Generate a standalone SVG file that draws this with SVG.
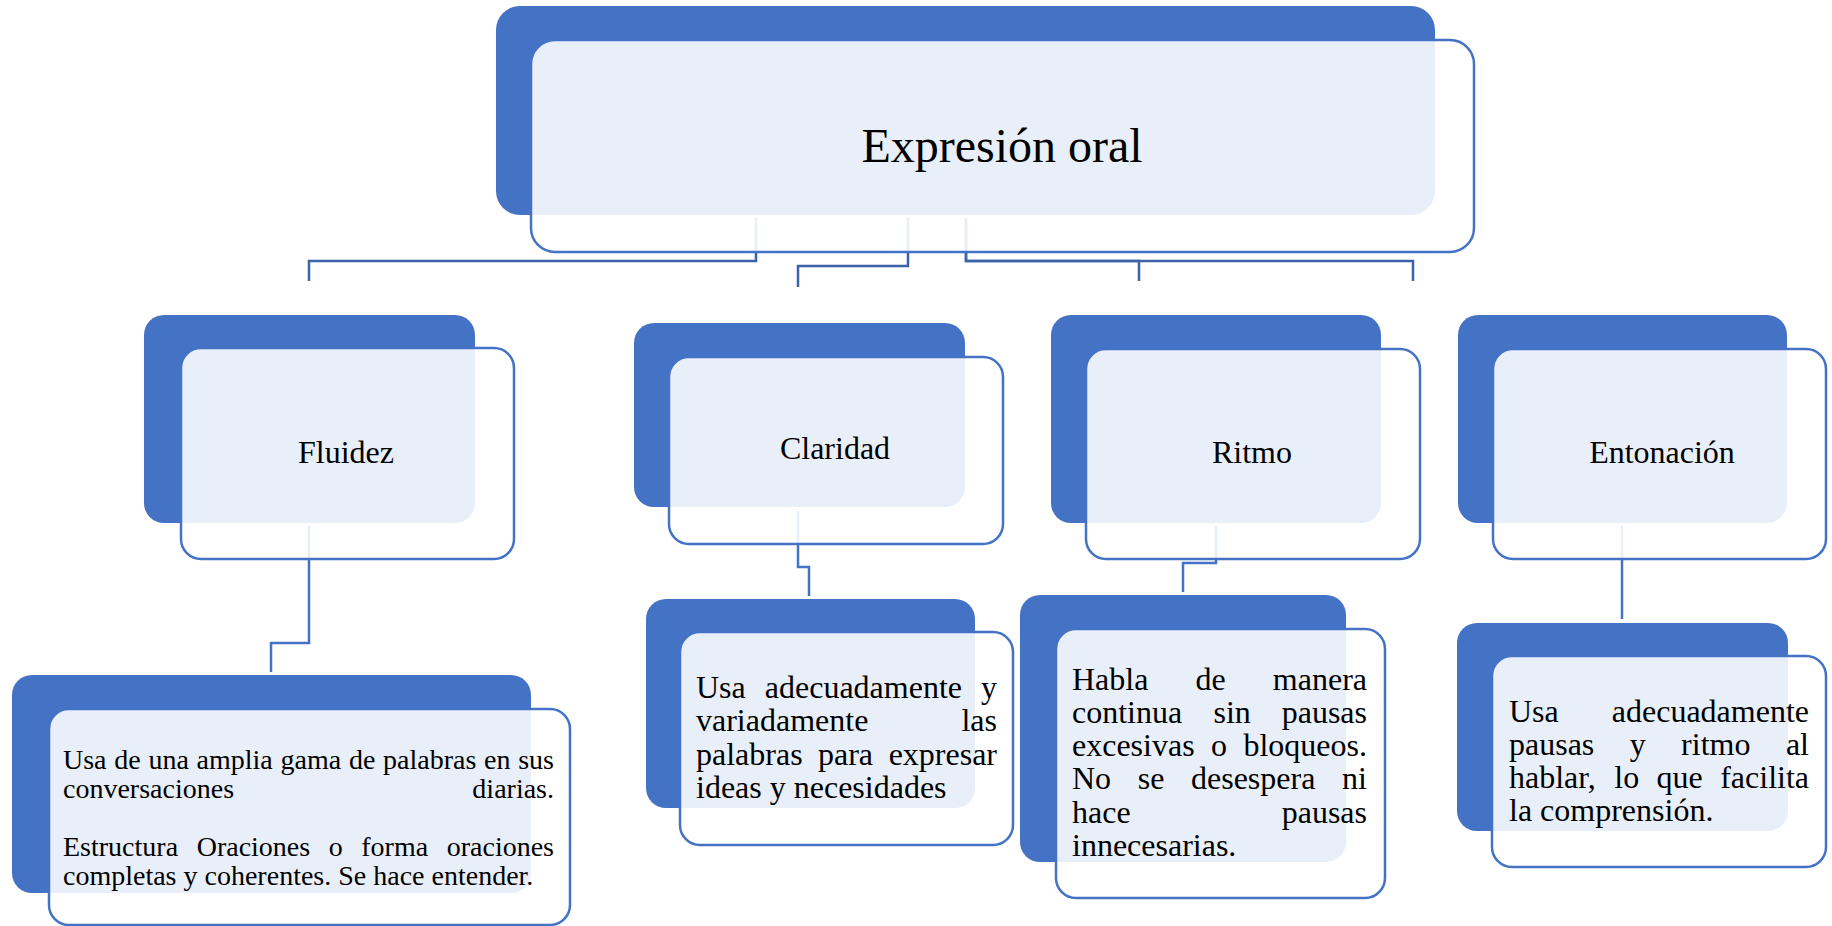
<svg xmlns="http://www.w3.org/2000/svg" width="1832" height="926" viewBox="0 0 1832 926">
<style>
.back{fill:#4472C4}
.front{fill:#FFFFFF;fill-opacity:0.885;stroke:#4472C4;stroke-width:2.5}
.conn{fill:none;stroke:#4472C4;stroke-width:2.5}
.top{stroke:#3D62A8}
text{font-family:"Liberation Serif","Times New Roman",serif;fill:#000000}
.lbl{font-size:32px;text-anchor:middle}
.b32{font-size:32px}
.b28{font-size:28px}
.end{text-anchor:end}
</style>
<rect width="1832" height="926" fill="#FFFFFF"/>
<g id="connectors">
<path class="conn top" d="M756,218 V261 H309 V281"/>
<path class="conn top" d="M908,218 V266 H798 V287"/>
<path class="conn top" d="M966,218 V261 H1139 V281"/>
<path class="conn top" d="M966,218 V261 H1413 V281"/>
<path class="conn" d="M309,526 V643 H271 V672"/>
<path class="conn" d="M798,511 V567 H809 V596"/>
<path class="conn" d="M1216,526 V563 H1183 V592"/>
<path class="conn" d="M1622,526 V619"/>
</g>
<g id="node-expresion">
<rect class="back" x="496" y="6" width="939" height="209" rx="24"/>
<rect class="front" x="531" y="40" width="943" height="212" rx="24"/>
<text x="1002" y="162" font-size="48" text-anchor="middle">Expresión oral</text>
</g>
<g id="node-fluidez">
<rect class="back" x="144" y="315" width="331" height="208" rx="20"/>
<rect class="front" x="181" y="348" width="333" height="211" rx="20"/>
<text class="lbl" x="346" y="463">Fluidez</text>
</g>
<g id="node-claridad">
<rect class="back" x="634" y="323" width="331" height="184" rx="20"/>
<rect class="front" x="669" y="357" width="334" height="187" rx="20"/>
<text class="lbl" x="835" y="459">Claridad</text>
</g>
<g id="node-ritmo">
<rect class="back" x="1051" y="315" width="330" height="208" rx="20"/>
<rect class="front" x="1086" y="349" width="334" height="210" rx="20"/>
<text class="lbl" x="1252" y="463">Ritmo</text>
</g>
<g id="node-entonacion">
<rect class="back" x="1458" y="315" width="329" height="208" rx="20"/>
<rect class="front" x="1493" y="349" width="333" height="210" rx="20"/>
<text class="lbl" x="1662" y="463">Entonación</text>
</g>
<g id="leaf-fluidez">
<rect class="back" x="12" y="675" width="519" height="218" rx="20"/>
<rect class="front" x="49" y="709" width="521" height="216" rx="20"/>
<text class="b28" y="769"><tspan x="63">Usa</tspan><tspan x="114.3">de</tspan><tspan x="148.4">una</tspan><tspan x="196.6">amplia</tspan><tspan x="280.5">gama</tspan><tspan x="348.9">de</tspan><tspan x="383">palabras</tspan><tspan x="484">en</tspan><tspan x="518.2">sus</tspan></text>
<text class="b28" y="798"><tspan x="63">conversaciones</tspan></text>
<text class="b28 end" x="554" y="798">diarias.</text>
<text class="b28" y="856"><tspan x="63">Estructura</tspan><tspan x="196.7">Oraciones</tspan><tspan x="328.7">o</tspan><tspan x="361.3">forma</tspan></text>
<text class="b28 end" x="554" y="856">oraciones</text>
<text class="b28" x="63" y="885">completas y coherentes. Se hace entender.</text>
</g>
<g id="leaf-claridad">
<rect class="back" x="646" y="599" width="329" height="209" rx="20"/>
<rect class="front" x="680" y="632" width="333" height="213" rx="20"/>
<text class="b32" y="698"><tspan x="696">Usa</tspan><tspan x="764.8">adecuadamente</tspan></text>
<text class="b32 end" x="997" y="698">y</text>
<text class="b32" x="696" y="731">variadamente</text>
<text class="b32 end" x="997" y="731">las</text>
<text class="b32" y="765"><tspan x="696">palabras</tspan><tspan x="818">para</tspan></text>
<text class="b32 end" x="997" y="765">expresar</text>
<text class="b32" x="696" y="798">ideas y necesidades</text>
</g>
<g id="leaf-ritmo">
<rect class="back" x="1020" y="595" width="326" height="267" rx="20"/>
<rect class="front" x="1056" y="629" width="329" height="269" rx="20"/>
<text class="b32" y="690"><tspan x="1072">Habla</tspan><tspan x="1195.5">de</tspan></text>
<text class="b32 end" x="1367" y="690">manera</text>
<text class="b32" y="723"><tspan x="1072">continua</tspan><tspan x="1213.5">sin</tspan></text>
<text class="b32 end" x="1367" y="723">pausas</text>
<text class="b32" y="756"><tspan x="1072">excesivas</tspan><tspan x="1211">o</tspan></text>
<text class="b32 end" x="1367" y="756">bloqueos.</text>
<text class="b32" y="789"><tspan x="1072">No</tspan><tspan x="1137.7">se</tspan><tspan x="1191">desespera</tspan></text>
<text class="b32 end" x="1367" y="789">ni</text>
<text class="b32" x="1072" y="823">hace</text>
<text class="b32 end" x="1367" y="823">pausas</text>
<text class="b32" x="1072" y="856">innecesarias.</text>
</g>
<g id="leaf-entonacion">
<rect class="back" x="1457" y="623" width="331" height="208" rx="20"/>
<rect class="front" x="1492" y="656" width="334" height="211" rx="20"/>
<text class="b32" x="1509" y="722">Usa</text>
<text class="b32 end" x="1809" y="722">adecuadamente</text>
<text class="b32" y="755"><tspan x="1509">pausas</tspan><tspan x="1629.7">y</tspan><tspan x="1681.1">ritmo</tspan></text>
<text class="b32 end" x="1809" y="755">al</text>
<text class="b32" y="788"><tspan x="1509">hablar,</tspan><tspan x="1614.3">lo</tspan><tspan x="1656.5">que</tspan></text>
<text class="b32 end" x="1809" y="788">facilita</text>
<text class="b32" x="1509" y="821">la comprensión.</text>
</g>
</svg>
